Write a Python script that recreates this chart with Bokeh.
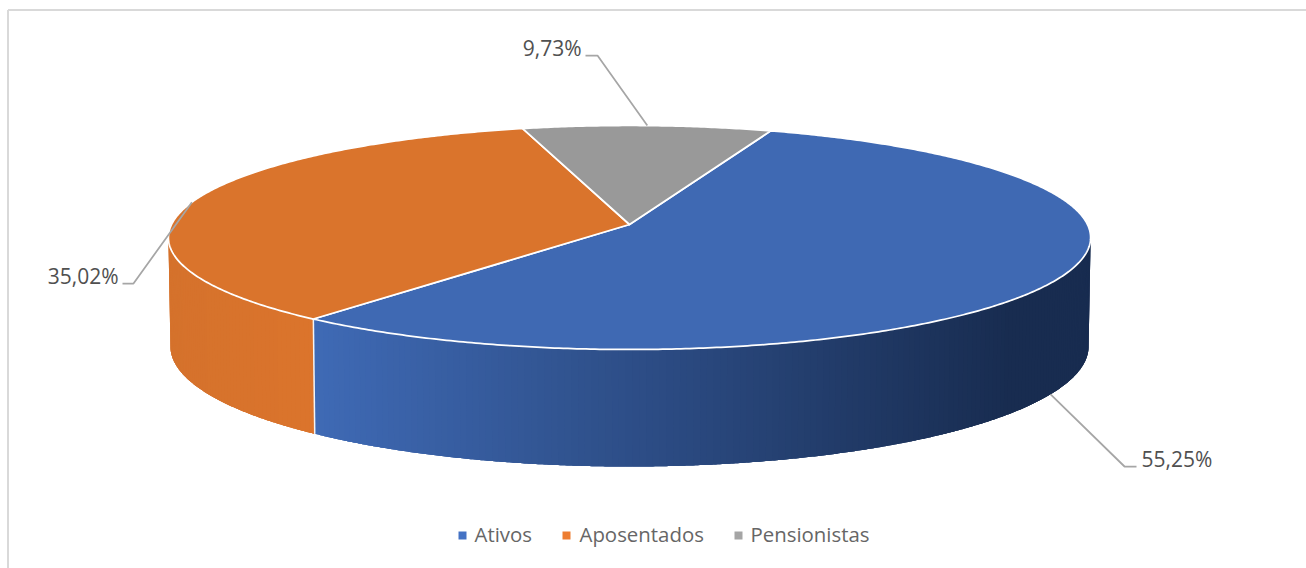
import math
from bokeh.plotting import figure
from bokeh.models import Range1d
from bokeh.core.properties import value
from bokeh.embed import file_html
from bokeh.resources import INLINE

categories = ["Ativos", "Aposentados", "Pensionistas"]
values = [55.25, 35.02, 9.73]
labels = ["55,25%", "35,02%", "9,73%"]

top_colors = ["#3F69B3", "#DA742C", "#999999"]
legend_colors = ["#4472C4", "#ED7D31", "#A5A5A5"]
side_left = [(0x3F, 0x6A, 0xB5), (0xD5, 0x72, 0x2C)]
side_right = [(0x18, 0x2C, 0x50), (0xDB, 0x74, 0x2C)]

# 3-D pie projection (page pixels)
CX, CY, A, B, K = 629.0, 224.0, 110.5, 458.0, 0.116
DEPTH, A_BOT, B_BOT = 108.0, 118.5, 456.0
FIRST_ANGLE = 20.0  # clockwise from north


def top_pt(deg):
    t = math.radians(deg)
    d = 1 + K * math.sin(t)
    return CX + B * math.cos(t) / d, CY - A * math.sin(t) / d


def bot_pt(deg):
    t = math.radians(deg)
    d = 1 + K * math.sin(t)
    return CX + B_BOT * math.cos(t) / d, CY + DEPTH - A_BOT * math.sin(t) / d


def arc(a0, a1, step=0.5):
    n = max(2, int(abs(a1 - a0) / step) + 1)
    return [a0 + (a1 - a0) * i / (n - 1) for i in range(n)]


spans = []
cur = 90.0 - FIRST_ANGLE
total = sum(values)
for v in values:
    nxt = cur - v / total * 360.0
    spans.append((cur, nxt))
    cur = nxt

p = figure(width=1306, height=568, x_range=Range1d(0, 1306), y_range=Range1d(568, 0),
           output_backend="svg", toolbar_location=None, min_border=0,
           background_fill_color="white", border_fill_color="white", outline_line_color=None)
p.axis.visible = False
p.grid.visible = False

# frame
p.line([7.5, 7.5], [568, 9.5], line_color="#D9D9D9", line_width=2)
p.line([7.5, 1306], [9.5, 9.5], line_color="#D9D9D9", line_width=2)

# side wall: overlapping strips painted in order, coloured by horizontal position
LO, HI = -173.3, -6.7
X_START, X_END = 316.0, 1010.0
for i in (1, 0):
    a0, a1 = spans[i]
    start, stop = max(min(a0, a1), LO), min(max(a0, a1), HI)
    ang = arc(start, stop, 0.75)
    for k in range(len(ang) - 1):
        u, w = ang[k], ang[min(k + 3, len(ang) - 1)]
        strip = arc(u, w, 0.25)
        tops = [top_pt(a) for a in strip]
        bots = [bot_pt(a) for a in reversed(strip)]
        xm = top_pt((ang[k] + ang[k + 1]) / 2)[0]
        if i == 0:
            f = min(1.0, max(0.0, (xm - X_START) / (X_END - X_START)))
        else:
            f = min(1.0, max(0.0, (xm - 170.0) / 140.0))
        c = tuple(int(round(l + (r - l) * f)) for l, r in zip(side_left[i], side_right[i]))
        col = "#%02X%02X%02X" % c
        p.patch([q[0] for q in tops + bots], [q[1] for q in tops + bots],
                fill_color=col, line_color=None)

# seam between blue and orange walls
sx0, sy0 = top_pt(spans[0][1])
sx1, sy1 = bot_pt(spans[0][1])
p.line([sx0, sx1], [sy0, sy1], line_color="#F4F4F4", line_width=1.5)

# top faces
for (a0, a1), col in zip(spans, top_colors):
    pts = [top_pt(a) for a in arc(a0, a1)]
    xs = [CX] + [q[0] for q in pts]
    ys = [CY] + [q[1] for q in pts]
    p.patch(xs, ys, fill_color=col, line_color="white", line_width=1.75, line_join="round")

# leaders and data labels
label_cfg = [
    dict(anchor=bot_pt, knee=(1124, 466), end=(1136, 466), tx=1141, ty=458, align="left"),
    dict(anchor=top_pt, knee=(133, 283), end=(122, 283), tx=118, ty=275, align="right"),
    dict(anchor=top_pt, knee=(597, 55), end=(585, 55), tx=581, ty=47, align="right"),
]
for (a0, a1), lab, cfg in zip(spans, labels, label_cfg):
    ax, ay = cfg["anchor"]((a0 + a1) / 2)
    p.line([ax, cfg["knee"][0], cfg["end"][0]], [ay, cfg["knee"][1], cfg["end"][1]],
           line_color="#A6A6A6", line_width=1.75)
    p.text([cfg["tx"]], [cfg["ty"]], text=[lab], text_font=value("Open Sans"), text_font_size="21px",
           text_color="#505050", text_align=cfg["align"], text_baseline="middle")

# legend
leg_marker_x = [462, 566, 738]
leg_text_x = [474, 579, 750]
LEG_Y = 535
p.scatter(leg_marker_x, [LEG_Y] * 3, marker="square", size=8, fill_color=legend_colors, line_color=None)
p.text(leg_text_x, [LEG_Y - 2] * 3, text=categories, text_font=value("Open Sans"), text_font_size="20.4px",
       text_color="#666666", text_align="left", text_baseline="middle")

open("out.html", "w").write(file_html(p, INLINE))
